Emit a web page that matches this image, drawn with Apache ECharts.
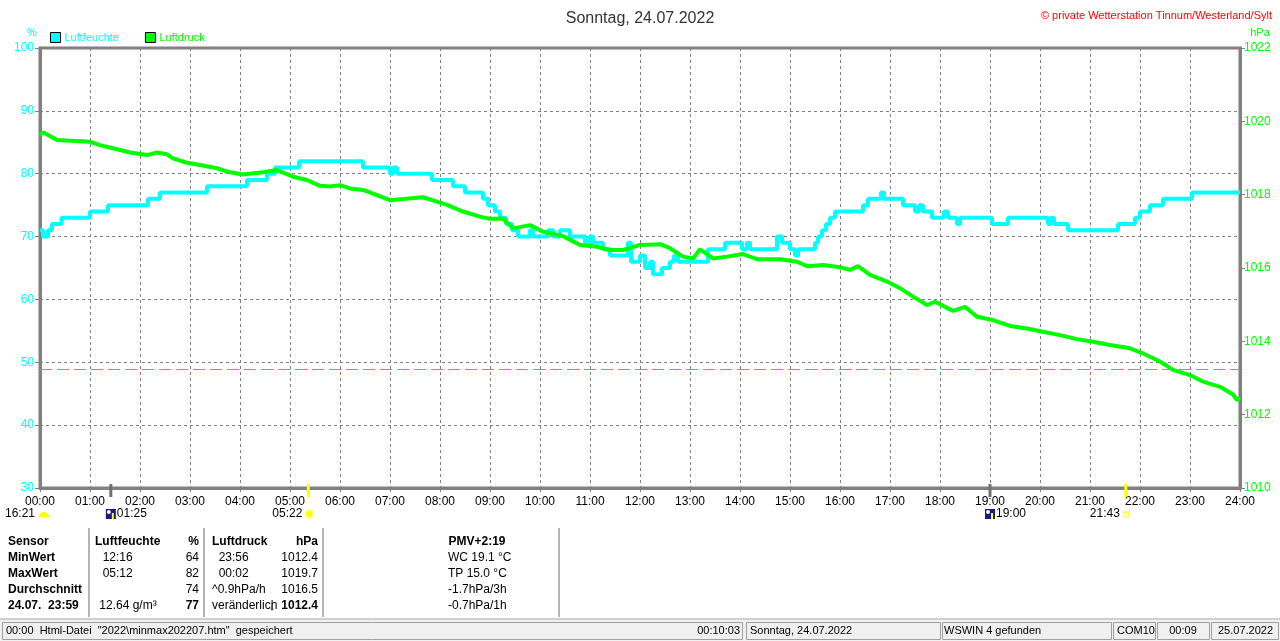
<!DOCTYPE html>
<html>
<head>
<meta charset="utf-8">
<title>Sonntag, 24.07.2022</title>
<script src="https://cdn.jsdelivr.net/npm/echarts@6/dist/echarts.min.js"></script>
<style>
    html, body { margin: 0; padding: 0; background: #ffffff; }
    #chart { width: 1280px; height: 641px; }
</style>
</head>
<body>
<div id="chart"></div>
<script>
var FONT = '"Liberation Sans", Arial, sans-serif';
var CYAN = '#00ffff';
var GREEN = '#00ff00';
var GRID = '#808080';

// Luftfeuchte in %, Stufen (Uhrzeit in Stunden)
var humTime = [0, 0.06, 0.16, 0.24, 0.43, 1.0, 1.36, 2.16, 2.4, 3.34, 4.14, 4.54, 4.7, 5.18, 6.46, 7.0, 7.06, 7.14, 7.84, 8.26,
    8.5, 8.86, 8.96, 9.1, 9.2, 9.32, 9.44, 9.56, 9.8, 9.86, 10.16, 10.26, 10.4, 10.6, 10.9, 11.0, 11.06, 11.26, 11.4, 11.76,
    11.82, 12.0, 12.1, 12.2, 12.26, 12.44, 12.6, 12.68, 12.76, 13.36, 13.7, 14.04, 14.14, 14.2, 14.74, 14.84, 15.0, 15.1, 15.16, 15.5,
    15.56, 15.64, 15.72, 15.8, 15.9, 16.46, 16.56, 16.82, 16.88, 17.26, 17.5, 17.58, 17.66, 17.84, 18.08, 18.16, 18.34, 18.4, 19.04, 19.36,
    20.16, 20.22, 20.28, 20.56, 21.56, 21.9, 22.0, 22.2, 22.46, 23.04, 24.0];
var humValue = [71, 70, 71, 72, 73, 74, 75, 76, 77, 78, 79, 80, 81, 82, 81, 80, 81, 80, 79, 78,
    77, 76, 75, 74, 73, 72, 71, 70, 71, 70, 71, 70, 71, 70, 69, 70, 69, 68, 67, 69,
    66, 67, 65, 66, 64, 65, 66, 67, 66, 68, 69, 68, 69, 68, 70, 69, 68, 67, 68, 69,
    70, 71, 72, 73, 74, 75, 76, 77, 76, 75, 74, 75, 74, 73, 74, 73, 72, 73, 72, 73,
    72, 73, 72, 71, 72, 73, 74, 75, 76, 77, 77];

// Luftdruck in hPa
var presTime = [0, 0.06, 0.34, 1.0, 1.2, 1.54, 1.8, 2.14, 2.34, 2.54, 2.66, 2.94, 3.2, 3.54, 3.8, 4.06, 4.46, 4.74, 5.06, 5.34,
    5.6, 5.8, 6.0, 6.2, 6.46, 6.74, 7.0, 7.26, 7.66, 7.94, 8.14, 8.46, 8.8, 9.0, 9.26, 9.46, 9.8, 10.06, 10.46, 10.8,
    11.14, 11.4, 11.66, 12.0, 12.4, 12.6, 12.86, 13.06, 13.2, 13.46, 13.74, 14.06, 14.34, 14.8, 15.14, 15.34, 15.66, 16.0, 16.2, 16.36,
    16.6, 16.94, 17.2, 17.46, 17.74, 17.9, 18.26, 18.5, 18.74, 19.06, 19.4, 19.74, 20.06, 20.4, 20.74, 21.06, 21.4, 21.8, 22.06, 22.4,
    22.66, 23.0, 23.26, 23.6, 23.86, 23.94, 24.0];
var presValue = [1019.63, 1019.7, 1019.49, 1019.44, 1019.35, 1019.24, 1019.15, 1019.08, 1019.15, 1019.10, 1018.99, 1018.87, 1018.81, 1018.72, 1018.61, 1018.55, 1018.61, 1018.67, 1018.49, 1018.40,
    1018.24, 1018.22, 1018.26, 1018.17, 1018.13, 1017.99, 1017.85, 1017.88, 1017.93, 1017.81, 1017.72, 1017.54, 1017.40, 1017.34, 1017.35, 1017.08, 1017.17, 1016.99, 1016.87, 1016.63,
    1016.58, 1016.49, 1016.49, 1016.63, 1016.65, 1016.54, 1016.31, 1016.26, 1016.51, 1016.26, 1016.31, 1016.38, 1016.24, 1016.24, 1016.17, 1016.05, 1016.08, 1016.02, 1015.95, 1016.05,
    1015.81, 1015.63, 1015.45, 1015.22, 1014.99, 1015.08, 1014.83, 1014.94, 1014.67, 1014.58, 1014.42, 1014.35, 1014.26, 1014.17, 1014.06, 1013.99, 1013.90, 1013.81, 1013.67, 1013.45,
    1013.22, 1013.08, 1012.90, 1012.76, 1012.55, 1012.4, 1012.45];
var normalPressure = 1013.25;

// Achsen
var hourRange = [0, 24];
var humRange = [30, 100];
var presRange = [1010, 1022];

// Sonne / Mond
var astroLabel = ['16:21', '01:25', '05:22', '19:00', '21:43'];
var astroTime = [0, 1 + 25 / 60, 5 + 22 / 60, 19, 21 + 43 / 60];
var astroKind = ['moonStart', 'moonRise', 'sunRise', 'moonSet', 'sunSet'];

// Tabelle
var colSensor = ['Sensor', 'MinWert', 'MaxWert', 'Durchschnitt', '24.07.  23:59'];
var colHumTime = ['Luftfeuchte', '  12:16', '  05:12', '', ' 12.64 g/m\u00b3'];
var colHumValue = ['%', '64', '82', '74', '77'];
var colPresTime = ['Luftdruck', '  23:56', '  00:02', '^0.9hPa/h', 'ver\u00e4nderlich'];
var colPresValue = ['hPa', '1012.4', '1019.7', '1016.5', '1012.4'];
var colPmv = ['PMV+2:19', 'WC 19.1 \u00b0C', 'TP 15.0 \u00b0C', '-1.7hPa/3h', '-0.7hPa/1h'];

// Statusleiste
var statusText = ['00:00  Html-Datei  "2022\\minmax202207.htm"  gespeichert', '00:10:03', 'Sonntag, 24.07.2022', 'WSWIN 4 gefunden', 'COM10', '00:09', '25.07.2022'];

function pairs(xs, ys) {
    var out = [];
    for (var i = 0; i < xs.length; i++) out.push([xs[i], ys[i]]);
    return out;
}

function hourLabel(v) {
    return (v < 10 ? '0' : '') + v + ':00';
}

function txt(text, x, y, opt) {
    opt = opt || {};
    return {
        type: 'text',
        silent: true,
        z: 100,
        style: {
            text: text,
            x: x,
            y: y,
            fill: opt.color || '#000000',
            font: (opt.bold ? 'bold ' : '') + (opt.size || 12) + 'px ' + FONT,
            textAlign: opt.align || 'left',
            align: opt.align || 'left',
            textVerticalAlign: 'middle',
            verticalAlign: 'middle'
        }
    };
}

function line(x1, y1, x2, y2, color, w) {
    return {
        type: 'line',
        silent: true,
        z: 100,
        shape: { x1: x1, y1: y1, x2: x2, y2: y2 },
        style: { stroke: color, lineWidth: w || 1 }
    };
}

function rect(x, y, w, h, fill, stroke) {
    return {
        type: 'rect',
        silent: true,
        z: 90,
        shape: { x: x, y: y, width: w, height: h },
        style: { fill: fill || 'none', stroke: stroke || null, lineWidth: 1 }
    };
}

var chart = echarts.init(document.getElementById('chart'));

var option = {
    animation: false,
    backgroundColor: '#ffffff',
    textStyle: { fontFamily: FONT },
    title: [{
        text: 'Sonntag, 24.07.2022',
        left: 'center',
        top: 6,
        textStyle: { fontSize: 16, fontWeight: 'normal', color: '#333333', fontFamily: FONT }
    }, {
        text: '\u00a9 private Wetterstation Tinnum/Westerland/Sylt',
        right: 3,
        top: 5,
        textStyle: { fontSize: 11, fontWeight: 'normal', color: '#ff0000', fontFamily: FONT }
    }],
    legend: {
        left: 50,
        top: 32,
        padding: 0,
        itemWidth: 10,
        itemHeight: 10,
        itemGap: 26,
        icon: 'rect',
        itemStyle: { borderColor: '#000000', borderWidth: 1 },
        textStyle: { fontSize: 11, fontFamily: FONT, padding: [0, 0, 0, -1] },
        data: [
            { name: 'Luftfeuchte', textStyle: { color: CYAN } },
            { name: 'Luftdruck', textStyle: { color: GREEN } }
        ]
    },
    grid: {
        left: 40,
        right: 40,
        top: 48,
        bottom: 153,
        show: true,
        borderColor: GRID,
        borderWidth: 3,
        backgroundColor: '#ffffff'
    },
    xAxis: {
        type: 'value',
        min: hourRange[0],
        max: hourRange[1],
        interval: 1,
        axisLine: { show: true, onZero: false, lineStyle: { color: GRID, width: 3 } },
        axisTick: { show: true, length: 4, lineStyle: { color: GRID, width: 1 } },
        axisLabel: { color: '#000000', fontSize: 12, margin: 8, formatter: hourLabel },
        splitLine: { show: true, lineStyle: { color: GRID, type: [3, 3], width: 1 } }
    },
    yAxis: [{
        type: 'value',
        min: humRange[0],
        max: humRange[1],
        interval: 10,
        position: 'left',
        axisLine: { show: true, lineStyle: { color: GRID, width: 3 } },
        axisTick: { show: true, length: 5, lineStyle: { color: GRID, width: 1 } },
        axisLabel: { color: CYAN, fontSize: 12, margin: 6, formatter: function(v) { return String(v); } },
        splitLine: { show: true, lineStyle: { color: GRID, type: [3, 3], width: 1 } }
    }, {
        type: 'value',
        min: presRange[0],
        max: presRange[1],
        interval: 2,
        position: 'right',
        axisLine: { show: true, lineStyle: { color: GRID, width: 3 } },
        axisTick: { show: true, length: 5, lineStyle: { color: GRID, width: 1 } },
        axisLabel: { color: GREEN, fontSize: 12, margin: 4, formatter: function(v) { return String(v); } },
        splitLine: { show: false }
    }],
    series: [{
        name: 'Luftfeuchte',
        type: 'line',
        yAxisIndex: 0,
        step: 'end',
        showSymbol: false,
        color: CYAN,
        lineStyle: { color: CYAN, width: 4 },
        data: pairs(humTime, humValue)
    }, {
        name: 'Luftdruck',
        type: 'line',
        yAxisIndex: 1,
        showSymbol: false,
        color: GREEN,
        lineStyle: { color: GREEN, width: 4 },
        data: pairs(presTime, presValue),
        markLine: {
            silent: true,
            symbol: 'none',
            label: { show: false },
            lineStyle: { color: GREEN, type: [12, 5], width: 1 },
            data: [{ yAxis: normalPressure }]
        }
    }]
};
chart.setOption(option);

// Zusatzelemente: Einheiten, Sonne/Mond, Tabelle, Statusleiste
function drawExtras() {
    var g = [];
    var left = chart.convertToPixel({ xAxisIndex: 0 }, hourRange[0]);
    var right = chart.convertToPixel({ xAxisIndex: 0 }, hourRange[1]);
    var top = chart.convertToPixel({ yAxisIndex: 0 }, humRange[1]);
    var bottom = chart.convertToPixel({ yAxisIndex: 0 }, humRange[0]);

    g.push(txt('%', left - 13, top - 15, { color: CYAN, size: 11 }));
    g.push(txt('hPa', right + 20, top - 15, { color: GREEN, size: 11, align: 'center' }));

    var rowY = bottom + 26;
    for (var i = 0; i < astroKind.length; i++) {
        var x = chart.convertToPixel({ xAxisIndex: 0 }, astroTime[i]);
        var k = astroKind[i];
        if (k === 'moonStart') {
            g.push(txt(astroLabel[i], x - 5, rowY, { align: 'right' }));
            g.push({ type: 'sector', silent: true, z: 100,
                shape: { cx: x + 4, cy: rowY + 3, r0: 0, r: 5, startAngle: Math.PI, endAngle: 2 * Math.PI },
                style: { fill: '#ffff00' } });
        } else if (k === 'moonRise' || k === 'moonSet') {
            g.push(line(x, bottom - 4, x, bottom + 9, '#707070', 3));
            g.push(rect(x - 5, rowY - 5, 10, 10, '#1a1a80', null));
            g.push({ type: 'circle', silent: true, z: 101, shape: { cx: x - 2, cy: rowY - 2, r: 2 }, style: { fill: '#ffffff' } });
            g.push(rect(x + 1, rowY - 1, 2, 6, '#ffff00', null));
            g.push(txt(astroLabel[i], x + 6, rowY, {}));
        } else {
            g.push(line(x, bottom - 4, x, bottom + 9, '#ffff00', 3));
            g.push(txt(astroLabel[i], x - 6, rowY, { align: 'right' }));
            if (k === 'sunRise') {
                g.push({ type: 'circle', silent: true, z: 101, shape: { cx: x + 1, cy: rowY, r: 4 }, style: { fill: '#ffff00', stroke: '#ffff80', lineWidth: 2 } });
            } else {
                g.push(rect(x - 2, rowY - 2, 5, 5, '#ffffff', '#ffff00'));
            }
        }
    }

    // Tabelle
    var ty = 542, dy = 16;
    for (var r = 0; r < colSensor.length; r++) {
        var y = ty + r * dy;
        var head = r === 0;
        var last = r === colSensor.length - 1;
        g.push(txt(colSensor[r], 8, y, { bold: true }));
        g.push(txt(colHumTime[r], head ? 95 : 96, y, { bold: head }));
        g.push(txt(colHumValue[r], 199, y, { bold: head || last, align: 'right' }));
        g.push(txt(colPresTime[r], 212, y, { bold: head }));
        g.push(txt(colPresValue[r], 318, y, { bold: head || last, align: 'right' }));
        if (head) {
            g.push(txt(colPmv[r], 477, y, { bold: true, align: 'center' }));
        } else {
            g.push(txt(colPmv[r], 448, y, {}));
        }
    }
    g.push(txt('\u2193', 272, ty + 4 * dy, { bold: true, align: 'center', size: 13 }));
    [89, 204, 323, 559].forEach(function(sx) {
        g.push(line(sx, 528, sx, 617, '#b4b4b4', 2));
    });

    // Statusleiste
    g.push(line(0, 619, 1280, 619, '#a0a0a0', 1));
    g.push(rect(0, 620, 1280, 21, '#f0f0f0', null));
    var boxes = [[2, 742], [746, 940], [942, 1111], [1113, 1155], [1157, 1209], [1211, 1278]];
    boxes.forEach(function(b) {
        g.push(rect(b[0] + 0.5, 622.5, b[1] - b[0], 17, 'none', '#a0a0a0'));
    });
    var sy = 631;
    var so = { size: 11 };
    g.push(txt(statusText[0], 6, sy, so));
    g.push(txt(statusText[1], 740, sy, { size: 11, align: 'right' }));
    g.push(txt(statusText[2], 750, sy, so));
    g.push(txt(statusText[3], 944, sy, so));
    g.push(txt(statusText[4], 1117, sy, so));
    g.push(txt(statusText[5], 1183, sy, { size: 11, align: 'center' }));
    g.push(txt(statusText[6], 1218, sy, so));

    chart.setOption({ graphic: { elements: g } });
}
drawExtras();
</script>
</body>
</html>
